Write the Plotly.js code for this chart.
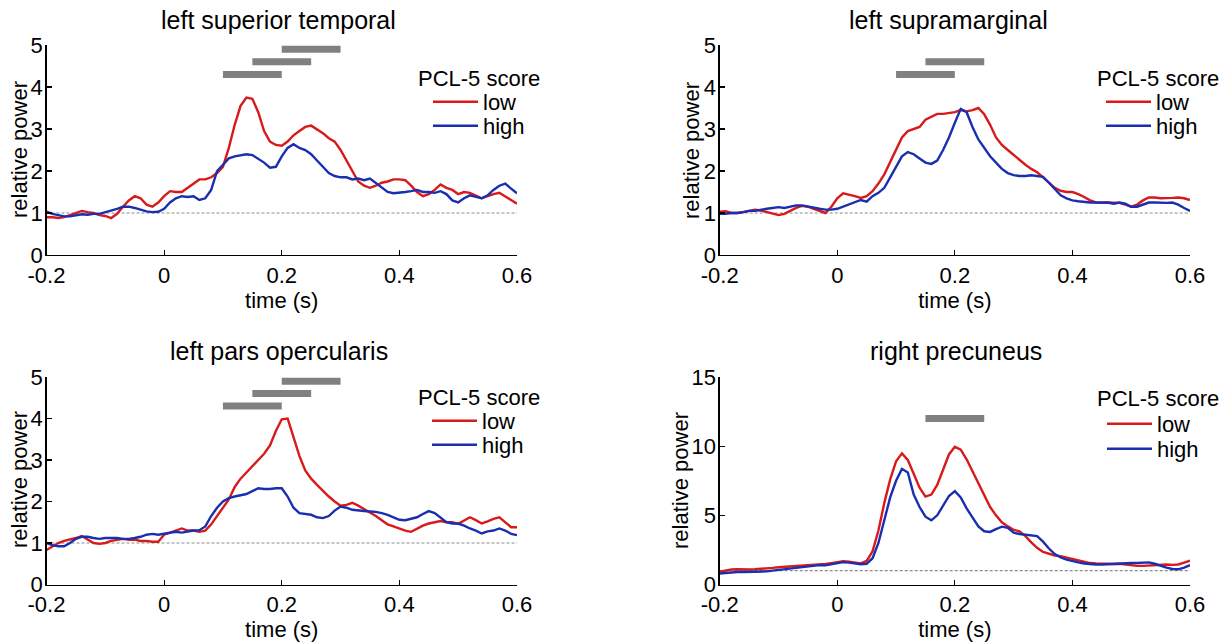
<!DOCTYPE html>
<html>
<head>
<meta charset="utf-8">
<script src="https://cdn.plot.ly/plotly-3.0.1.min.js"></script>
<style>html,body{margin:0;padding:0;background:#fff;}#chart{width:1220px;height:644px;}</style>
</head>
<body>
<div id="chart"></div>
<script>
// ---- data ----
const time = [-0.20,-0.19,-0.18,-0.17,-0.16,-0.15,-0.14,-0.13,-0.12,-0.11,
  -0.10,-0.09,-0.08,-0.07,-0.06,-0.05,-0.04,-0.03,-0.02,-0.01,
  0.00,0.01,0.02,0.03,0.04,0.05,0.06,0.07,0.08,0.09,
  0.10,0.11,0.12,0.13,0.14,0.15,0.16,0.17,0.18,0.19,
  0.20,0.21,0.22,0.23,0.24,0.25,0.26,0.27,0.28,0.29,
  0.30,0.31,0.32,0.33,0.34,0.35,0.36,0.37,0.38,0.39,
  0.40,0.41,0.42,0.43,0.44,0.45,0.46,0.47,0.48,0.49,
  0.50,0.51,0.52,0.53,0.54,0.55,0.56,0.57,0.58,0.59,
  0.60];

const titles = ["left superior temporal", "left supramarginal", "left pars opercularis", "right precuneus"];
const seriesNames = ["low", "high"];
const legendTitle = "PCL-5 score";
const xTitle = "time (s)";
const yTitle = "relative power";
const xTickVals = [-0.2, 0, 0.2, 0.4, 0.6];
const xTickText = ["-0.2", "0", "0.2", "0.4", "0.6"];
const yTickVals45 = [0, 1, 2, 3, 4, 5];
const yTickVals15 = [0, 5, 10, 15];
const baseline = 1;

// left superior temporal
const stLow = [0.90,0.90,0.88,0.90,0.95,1.00,1.05,1.02,1.00,0.95,
  0.93,0.88,0.98,1.15,1.30,1.40,1.35,1.20,1.15,1.25,
  1.40,1.52,1.50,1.50,1.60,1.72,1.80,1.80,1.85,1.95,
  2.10,2.55,3.10,3.55,3.75,3.72,3.40,2.95,2.70,2.62,
  2.60,2.70,2.85,2.95,3.05,3.08,3.00,2.90,2.78,2.70,
  2.50,2.25,2.00,1.75,1.65,1.60,1.65,1.72,1.75,1.80,
  1.80,1.78,1.65,1.50,1.40,1.45,1.55,1.68,1.60,1.55,
  1.45,1.50,1.48,1.42,1.35,1.40,1.45,1.48,1.40,1.30,
  1.22];
const stHigh = [1.03,0.98,0.95,0.92,0.92,0.95,0.97,0.96,0.98,0.98,
  1.02,1.05,1.10,1.15,1.15,1.12,1.08,1.04,1.02,1.03,
  1.10,1.25,1.35,1.40,1.38,1.40,1.31,1.35,1.55,2.00,
  2.15,2.30,2.35,2.38,2.40,2.38,2.30,2.20,2.08,2.10,
  2.35,2.55,2.64,2.55,2.50,2.40,2.25,2.10,1.95,1.88,
  1.85,1.85,1.80,1.82,1.78,1.82,1.72,1.60,1.50,1.47,
  1.48,1.50,1.52,1.55,1.50,1.50,1.48,1.52,1.45,1.30,
  1.25,1.35,1.42,1.38,1.35,1.42,1.55,1.65,1.70,1.58,
  1.47];
const stBarStart = [0.10, 0.15, 0.20];
const stBarEnd = [0.20, 0.25, 0.30];
const stBarLevel = [4.3, 4.6, 4.9];

// left supramarginal
const smLow = [1.03,1.04,1.00,1.00,1.02,1.05,1.08,1.06,1.02,0.98,
  0.95,0.98,1.05,1.12,1.17,1.15,1.10,1.05,1.00,1.15,
  1.35,1.47,1.44,1.40,1.36,1.40,1.52,1.70,1.92,2.20,
  2.50,2.80,2.95,3.00,3.05,3.22,3.30,3.36,3.36,3.38,
  3.40,3.45,3.42,3.45,3.50,3.35,3.10,2.80,2.62,2.50,
  2.38,2.25,2.15,2.05,1.97,1.85,1.72,1.60,1.53,1.50,
  1.50,1.45,1.38,1.30,1.25,1.24,1.25,1.24,1.24,1.20,
  1.15,1.20,1.30,1.37,1.37,1.35,1.35,1.36,1.37,1.35,
  1.31];
const smHigh = [0.98,0.98,1.00,1.00,1.02,1.05,1.05,1.08,1.10,1.12,
  1.14,1.12,1.15,1.18,1.18,1.15,1.12,1.10,1.08,1.08,
  1.10,1.15,1.20,1.25,1.31,1.27,1.40,1.48,1.60,1.85,
  2.10,2.35,2.45,2.40,2.30,2.20,2.17,2.25,2.50,2.80,
  3.15,3.48,3.40,3.05,2.75,2.55,2.35,2.20,2.05,1.95,
  1.90,1.88,1.88,1.90,1.88,1.86,1.72,1.58,1.42,1.35,
  1.30,1.28,1.26,1.25,1.25,1.25,1.25,1.22,1.25,1.22,
  1.15,1.15,1.20,1.25,1.25,1.24,1.24,1.25,1.20,1.12,
  1.05];
const smBarStart = [0.10, 0.15];
const smBarEnd = [0.20, 0.25];
const smBarLevel = [4.3, 4.6];

// left pars opercularis
const poLow = [0.83,0.92,1.00,1.05,1.08,1.12,1.17,1.08,1.00,0.98,
  1.00,1.05,1.08,1.10,1.08,1.08,1.05,1.05,1.03,1.03,
  1.20,1.25,1.30,1.35,1.30,1.30,1.27,1.30,1.45,1.65,
  1.85,2.05,2.35,2.55,2.70,2.85,3.00,3.15,3.35,3.70,
  3.98,4.00,3.55,3.10,2.75,2.55,2.40,2.25,2.12,2.00,
  1.90,1.92,1.97,1.90,1.82,1.72,1.65,1.55,1.45,1.40,
  1.35,1.30,1.27,1.35,1.42,1.47,1.50,1.53,1.50,1.50,
  1.46,1.55,1.62,1.55,1.47,1.52,1.58,1.62,1.50,1.38,
  1.38];
const poHigh = [1.00,0.95,0.92,0.92,1.00,1.10,1.15,1.15,1.12,1.10,
  1.12,1.12,1.12,1.10,1.10,1.12,1.15,1.20,1.22,1.20,
  1.22,1.25,1.27,1.25,1.28,1.30,1.31,1.40,1.65,1.85,
  2.00,2.08,2.12,2.15,2.18,2.25,2.32,2.30,2.30,2.32,
  2.32,2.12,1.85,1.72,1.70,1.68,1.62,1.60,1.65,1.78,
  1.88,1.85,1.80,1.78,1.77,1.76,1.75,1.72,1.68,1.62,
  1.56,1.55,1.58,1.62,1.70,1.77,1.72,1.62,1.50,1.47,
  1.47,1.42,1.35,1.30,1.23,1.28,1.30,1.35,1.30,1.22,
  1.19];
const poBarStart = [0.10, 0.15, 0.20];
const poBarEnd = [0.20, 0.25, 0.30];
const poBarLevel = [4.3, 4.6, 4.9];

// right precuneus
const prLow = [0.92,1.00,1.08,1.10,1.08,1.08,1.10,1.12,1.15,1.20,
  1.25,1.28,1.28,1.32,1.35,1.38,1.40,1.42,1.48,1.55,
  1.62,1.68,1.65,1.60,1.52,1.70,2.40,3.90,5.90,7.60,
  8.90,9.48,9.00,8.00,7.00,6.35,6.50,7.20,8.30,9.40,
  9.95,9.75,9.05,8.20,7.30,6.40,5.60,5.00,4.50,4.20,
  3.95,3.85,3.50,3.05,2.65,2.35,2.20,2.10,2.05,1.95,
  1.82,1.72,1.62,1.55,1.52,1.50,1.48,1.48,1.50,1.45,
  1.38,1.35,1.35,1.38,1.42,1.45,1.45,1.42,1.45,1.58,
  1.72];
const prHigh = [0.80,0.85,0.88,0.90,0.90,0.90,0.92,0.92,0.95,1.00,
  1.05,1.10,1.15,1.20,1.25,1.30,1.40,1.40,1.38,1.45,
  1.55,1.62,1.58,1.52,1.47,1.50,1.90,3.00,4.60,6.30,
  7.50,8.36,8.10,6.50,5.60,4.90,4.64,5.00,5.70,6.40,
  6.75,6.30,5.50,4.80,4.20,3.85,3.80,4.00,4.18,4.10,
  3.75,3.65,3.60,3.58,3.50,3.10,2.60,2.20,1.95,1.80,
  1.68,1.60,1.52,1.47,1.45,1.45,1.48,1.50,1.50,1.52,
  1.55,1.55,1.58,1.60,1.50,1.35,1.22,1.12,1.10,1.22,
  1.40];
const prBarStart = [0.15];
const prBarEnd = [0.25];
const prBarLevel = [12.0];

// ---- styling / assembly ----
const RED = "#d81a1a";
const BLUE = "#1a2fb0";
const BAR = "#808080";
const FONT = "Liberation Sans, Arial, Helvetica, sans-serif";
const FS = 22;

const panels = [
  {low: stLow, high: stHigh, bs: stBarStart, be: stBarEnd, bl: stBarLevel, yt: yTickVals45, ymax: 5},
  {low: smLow, high: smHigh, bs: smBarStart, be: smBarEnd, bl: smBarLevel, yt: yTickVals45, ymax: 5},
  {low: poLow, high: poHigh, bs: poBarStart, be: poBarEnd, bl: poBarLevel, yt: yTickVals45, ymax: 5},
  {low: prLow, high: prHigh, bs: prBarStart, be: prBarEnd, bl: prBarLevel, yt: yTickVals15, ymax: 15}
];

const W = 1220, H = 644;
const xDomLeft = [46.5 / W, 517 / W];
const xDomRight = [719.7 / W, 1190 / W];
const yDomTop = [1 - 255 / H, 1 - 45 / H];
const yDomBot = [1 - 584.5 / H, 1 - 377 / H];
const doms = [
  {x: xDomLeft, y: yDomTop},
  {x: xDomRight, y: yDomTop},
  {x: xDomLeft, y: yDomBot},
  {x: xDomRight, y: yDomBot}
];
// pixel anchors of text elements
const titlePos = [{x: 278, y: 20}, {x: 948, y: 20}, {x: 279, y: 351}, {x: 956, y: 351}];
const legTitlePos = [{x: 416, y: 78}, {x: 1095, y: 78}, {x: 416, y: 397}, {x: 1095, y: 398}];
const legLowPos = [{x: 428, y: 102}, {x: 1101, y: 102}, {x: 427, y: 421}, {x: 1102, y: 424}];
const legHighPos = [{x: 428, y: 126}, {x: 1101, y: 126}, {x: 427, y: 445}, {x: 1102, y: 449}];
const yTitlePos = [{x: 19, y: 150}, {x: 691, y: 150}, {x: 19, y: 480}, {x: 680, y: 480}];

const traces = [];
const layout = {
  width: W, height: H,
  margin: {l: 0, r: 0, t: 0, b: 0},
  paper_bgcolor: "#fff", plot_bgcolor: "rgba(0,0,0,0)",
  font: {family: FONT, color: "#000", size: FS},
  annotations: [], shapes: []
};

function legendObj(pos) {
  return {
    x: pos.x / W, y: 1 - pos.y / H, xanchor: "left", yanchor: "middle",
    bgcolor: "rgba(0,0,0,0)", borderwidth: 0,
    font: {family: FONT, size: FS, color: "#000"},
    itemwidth: 45
  };
}

panels.forEach((p, i) => {
  const n = i + 1;
  const xa = n === 1 ? "x" : "x" + n;
  const ya = n === 1 ? "y" : "y" + n;
  const lgLow = i === 0 ? "legend" : "legend" + (2 * i + 1);
  const lgHigh = "legend" + (2 * i + 2);
  // significance bars
  p.bs.forEach((s, k) => {
    traces.push({
      x: [s, p.be[k]], y: [p.bl[k], p.bl[k]], xaxis: xa, yaxis: ya,
      mode: "lines", line: {color: BAR, width: 7}, showlegend: false, hoverinfo: "skip"
    });
  });
  traces.push({x: time, y: p.low, xaxis: xa, yaxis: ya, name: seriesNames[0], legend: lgLow,
    mode: "lines", line: {color: RED, width: 2.4}});
  traces.push({x: time, y: p.high, xaxis: xa, yaxis: ya, name: seriesNames[1], legend: lgHigh,
    mode: "lines", line: {color: BLUE, width: 2.4}});

  const axCommon = {
    showline: true, linecolor: "#000", linewidth: 1.3, ticks: "inside", ticklen: 5,
    tickcolor: "#000", tickwidth: 1.2, showgrid: false, zeroline: false,
    tickfont: {family: FONT, size: FS, color: "#000"}
  };
  layout[n === 1 ? "xaxis" : "xaxis" + n] = Object.assign({}, axCommon, {
    domain: doms[i].x, anchor: ya, range: [-0.2, 0.6],
    tickvals: xTickVals, ticktext: xTickText,
    title: {text: xTitle, font: {family: FONT, size: FS}, standoff: 3}
  });
  layout[n === 1 ? "yaxis" : "yaxis" + n] = Object.assign({}, axCommon, {
    domain: doms[i].y, anchor: xa, range: [0, p.ymax],
    tickvals: p.yt, ticklabelstandoff: -2
  });
  layout[lgLow] = legendObj(legLowPos[i]);
  layout[lgHigh] = legendObj(legHighPos[i]);

  layout.annotations.push({
    text: titles[i], xref: "paper", yref: "paper", x: titlePos[i].x / W, y: 1 - titlePos[i].y / H,
    xanchor: "center", yanchor: "middle", showarrow: false,
    font: {family: FONT, size: 25, color: "#000"}
  });
  layout.annotations.push({
    text: legendTitle, xref: "paper", yref: "paper", x: legTitlePos[i].x / W, y: 1 - legTitlePos[i].y / H,
    xanchor: "left", yanchor: "middle", showarrow: false,
    font: {family: FONT, size: FS, color: "#000"}
  });
  layout.annotations.push({
    text: yTitle, xref: "paper", yref: "paper", x: yTitlePos[i].x / W, y: 1 - yTitlePos[i].y / H,
    xanchor: "center", yanchor: "middle", showarrow: false, textangle: -90,
    font: {family: FONT, size: FS, color: "#000"}
  });
  layout.shapes.push({
    type: "line", xref: xa, yref: ya, x0: -0.2, x1: 0.6, y0: baseline, y1: baseline,
    line: {color: "#8a8a8a", width: 1.2, dash: "3px,2px"}, layer: "below"
  });
});

Plotly.newPlot("chart", traces, layout, {displayModeBar: false, staticPlot: true});
</script>
</body>
</html>
